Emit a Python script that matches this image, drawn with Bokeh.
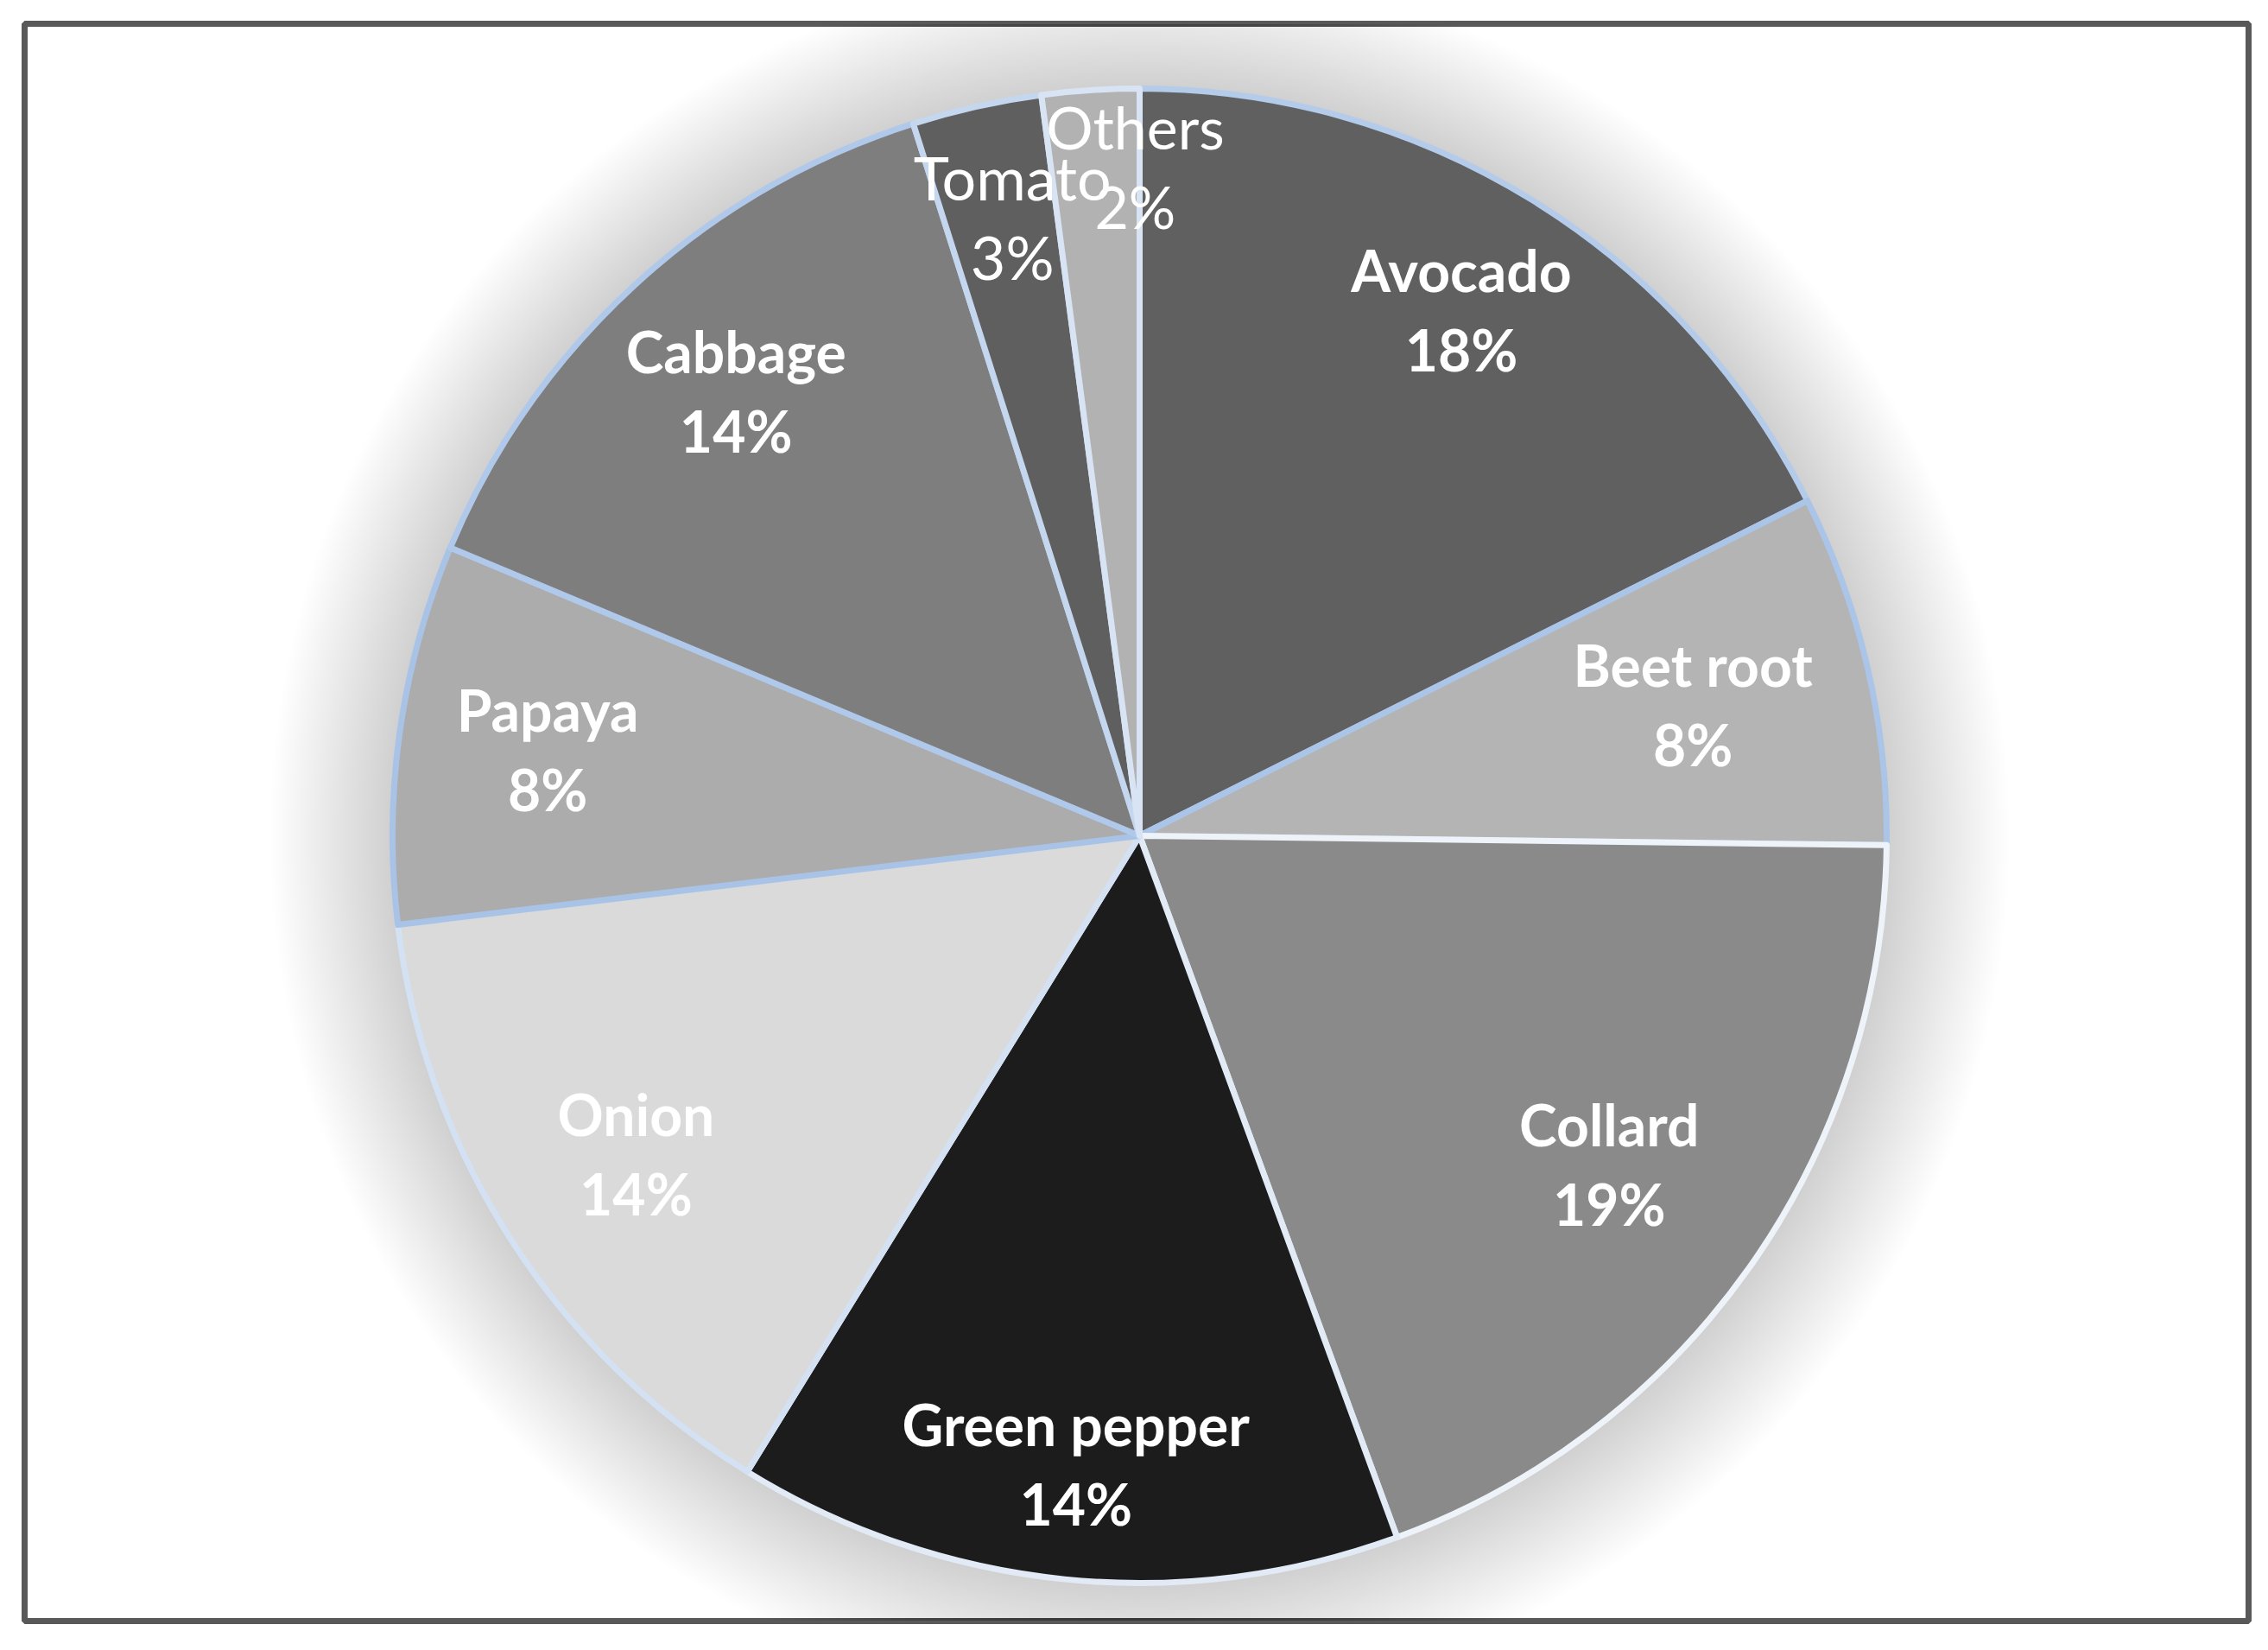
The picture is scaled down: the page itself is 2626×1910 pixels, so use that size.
import math
from bokeh.plotting import figure
from bokeh.models import ColumnDataSource, Range1d
from bokeh.core.properties import value
from bokeh.embed import file_html
from bokeh.resources import INLINE

# ---- data ----
categories = ["Avocado", "Beet root", "Collard", "Green pepper", "Onion",
              "Papaya", "Cabbage", "Tomato", "Others"]
shares = [17.6, 7.6, 19.2, 14.4, 14.3, 8.2, 13.8, 2.8, 2.1]
pct_labels = ["18%", "8%", "19%", "14%", "14%", "8%", "14%", "3%", "2%"]

# ---- styling ----
fill_colors = ["#606060", "#b4b4b4", "#8a8a8a", "#1c1c1c", "#dadada",
               "#acacac", "#7e7e7e", "#5f5f5f", "#b2b2b2"]
edge_colors = ["#b4cbea", "#abc5e8", "#eef3fa", "#e2eaf6", "#d3e1f3",
               "#a9c3e7", "#b0c9ea", "#c5d7ef", "#d8e4f4"]
label_radius = [0.82, 0.76, 0.77, 0.85, 0.80, 0.80, 0.80, 0.84, 0.89]
label_shift_deg = [0, 0, 0, 0, 0, 0, 0, -0.9, -3.4]
label_weight = ["bold"] * 7 + ["normal", "normal"]
label_size = ["66px"] * 7 + ["70px", "68px"]

W, H = 2610, 1880
ML, MR, MT, MB = 28, 7, 27, 4
FW, FH = W - ML - MR, H - MT - MB
CX, CY = 1291, 909
R = 865

p = figure(width=W, height=H, output_backend="svg", toolbar_location=None,
           x_range=Range1d(0, FW), y_range=Range1d(0, FH),
           x_axis_type=None, y_axis_type=None,
           min_border_left=ML, min_border_right=MR,
           min_border_top=MT, min_border_bottom=MB)
p.grid.visible = False
p.background_fill_color = "white"
p.border_fill_color = "white"
p.outline_line_color = "#595959"
p.outline_line_width = 7

# soft shadow around the pie
n_sh = 46
for k in range(n_sh):
    p.circle(x=[CX], y=[CY], radius=R + 4 + 3 * (n_sh - k),
             fill_color="black", fill_alpha=0.0029, line_color=None)

total = sum(shares)
starts, ends, lx, ly = [], [], [], []
cum = 0.0
for i, s in enumerate(shares):
    a0 = math.pi / 2 - 2 * math.pi * cum / total
    cum += s
    a1 = math.pi / 2 - 2 * math.pi * cum / total
    starts.append(a0)
    ends.append(a1)
    mid = (a0 + a1) / 2 + math.radians(label_shift_deg[i])
    lx.append(CX + label_radius[i] * R * math.cos(mid))
    ly.append(CY + label_radius[i] * R * math.sin(mid))

src = ColumnDataSource(dict(cat=categories, pct=pct_labels, start=starts, end=ends,
                            fill=fill_colors, edge=edge_colors, lx=lx, ly=ly,
                            weight=label_weight, size=label_size))

p.wedge(x=CX, y=CY, radius=R, start_angle="start", end_angle="end",
        direction="clock", fill_color="fill", line_color="edge",
        line_width=7, line_join="round", source=src)

p.text(x="lx", y="ly", text="cat", source=src, y_offset=-51,
       text_font=value("Lato"), text_font_size="size", text_font_style="weight",
       text_color="white", text_align="center", text_baseline="middle")
p.text(x="lx", y="ly", text="pct", source=src, y_offset=41,
       text_font=value("Lato"), text_font_size="size", text_font_style="weight",
       text_color="white", text_align="center", text_baseline="middle")

open("out.html", "w").write(file_html(p, INLINE))
